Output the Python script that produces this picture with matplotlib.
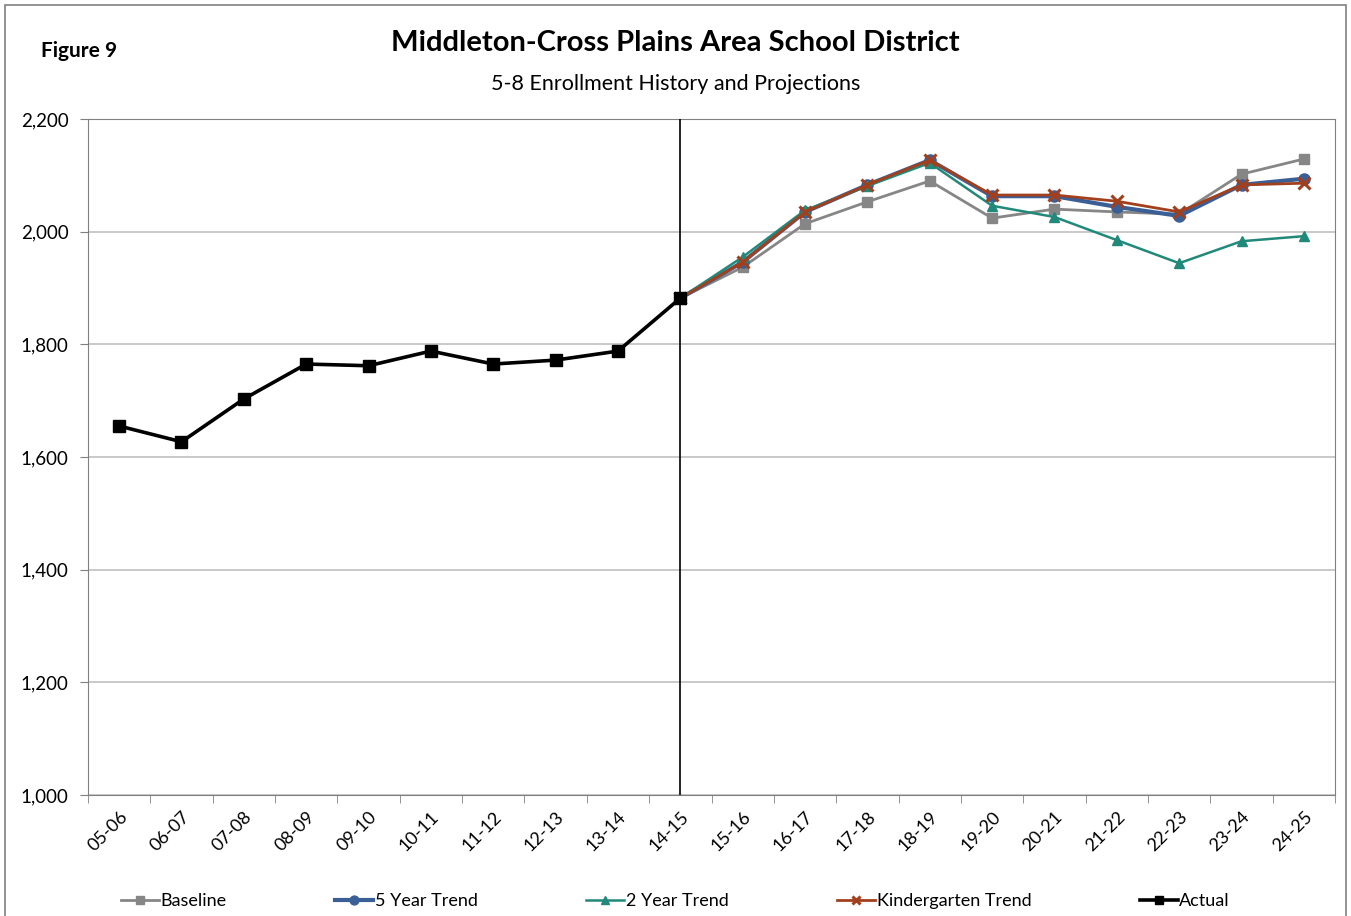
import numpy as np
import matplotlib
matplotlib.use("Agg")
import matplotlib.pyplot as plt
from matplotlib.patches import Rectangle

plt.rcParams['font.family'] = ['Lato', 'DejaVu Sans']

# school years on the x axis
years = ['05-06', '06-07', '07-08', '08-09', '09-10', '10-11', '11-12', '12-13',
         '13-14', '14-15', '15-16', '16-17', '17-18', '18-19', '19-20', '20-21',
         '21-22', '22-23', '23-24', '24-25']

# actual enrollment 05-06 .. 14-15
actual = [1655, 1627, 1703, 1765, 1762, 1788, 1765, 1772, 1788, 1882]

# projections 14-15 .. 24-25
baseline = [1882, 1937, 2014, 2053, 2090, 2024, 2040, 2035, 2031, 2102, 2129]
trend5 = [1882, 1946, 2035, 2083, 2127, 2063, 2063, 2044, 2028, 2083, 2094]
trend2 = [1882, 1955, 2038, 2081, 2122, 2046, 2026, 1985, 1944, 1983, 1992]
kinder = [1882, 1946, 2035, 2083, 2127, 2065, 2065, 2054, 2035, 2083, 2086]

yticks = [1000, 1200, 1400, 1600, 1800, 2000, 2200]

x = np.arange(len(years))
xa = x[:len(actual)]
xp = x[len(actual) - 1:]

fig = plt.figure(figsize=(13.51, 9.16), dpi=100)
ax = fig.add_axes([0.0651, 0.1321, 0.9231, 0.7380])

ax.plot(xp, baseline, color='#868686', lw=2.0, marker='s', ms=7, label='Baseline', zorder=3)
ax.plot(xp, trend5, color='#3a5f97', lw=3.0, marker='o', ms=8, label='5 Year Trend', zorder=4)
ax.plot(xp, trend2, color='#21897a', lw=1.8, marker='^', ms=7, label='2 Year Trend', zorder=5)
ax.plot(xp, kinder, color='#a2401d', lw=2.0, marker='x', ms=8, mew=2.2, label='Kindergarten Trend', zorder=6)
ax.plot(xa, actual, color='black', lw=2.6, marker='s', ms=8, label='Actual', zorder=7)

ax.axvline(len(actual) - 1, color='black', lw=1.2, zorder=8)

ax.set_xlim(-0.5, len(years) - 0.5)
ax.set_ylim(1000, 2200)
ax.set_yticks(yticks)
ax.set_yticklabels(['{:,}'.format(v) for v in yticks], fontsize=13.5)
ax.grid(True, axis='y', color='#c0c0c0', lw=1.2, zorder=0)

ax.set_xticks(x)
ax.set_xticklabels(years, rotation=45, ha='right', rotation_mode='anchor', fontsize=13)
ax.set_xticks(np.arange(-0.5, len(years)), minor=True)
ax.tick_params(axis='x', which='major', length=0, pad=10)
ax.tick_params(axis='x', which='minor', length=6, color='#808080')
ax.tick_params(axis='y', length=6, color='#808080', pad=8)
for s in ax.spines.values():
    s.set_color('#808080')

fig.text(0.5, 0.953, 'Middleton-Cross Plains Area School District', ha='center', va='center',
         fontsize=21, fontweight='bold')
fig.text(0.5, 0.908, '5-8 Enrollment History and Projections', ha='center', va='center', fontsize=15.5)
fig.text(0.03, 0.944, 'Figure 9', ha='left', va='center', fontsize=15, fontweight='bold')

fig.legend(loc='center', bbox_to_anchor=(0.5, 0.016), ncol=5, frameon=False, fontsize=13,
           handlelength=2.1, handletextpad=0.1, columnspacing=6.0, markerscale=0.8)

fig.patches.append(Rectangle((0.004, -0.01), 0.992, 1.004, transform=fig.transFigure,
                             fill=False, edgecolor='#808080', lw=1.2))

fig.savefig('out.png', dpi=100)
